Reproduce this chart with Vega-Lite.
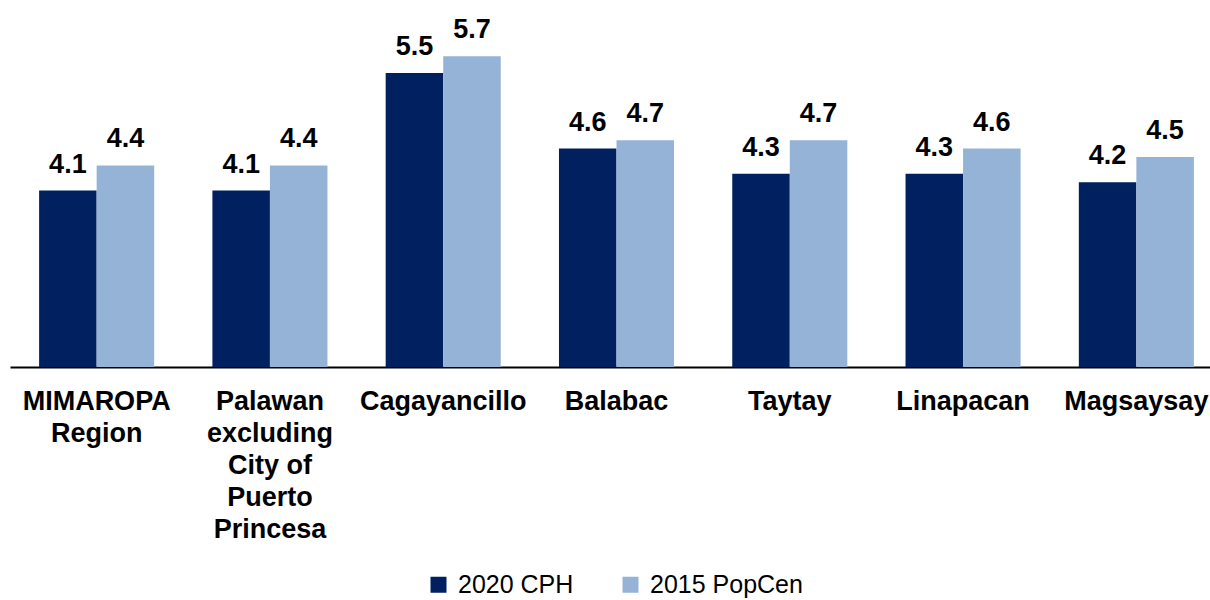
{
  "$schema": "https://vega.github.io/schema/vega-lite/v6.json",
  "width": 1213,
  "height": 336,
  "autosize": {"type": "none"},
  "padding": {"left": 10, "top": 31, "right": 0, "bottom": 233},
  "config": {"view": {"stroke": null}, "font": "Liberation Sans"},
  "data": {
    "values": [
      {"area": "MIMAROPA Region", "series": "2020 CPH", "value": 4.1},
      {"area": "MIMAROPA Region", "series": "2015 PopCen", "value": 4.4},
      {"area": "Palawan excluding City of Puerto Princesa", "series": "2020 CPH", "value": 4.1},
      {"area": "Palawan excluding City of Puerto Princesa", "series": "2015 PopCen", "value": 4.4},
      {"area": "Cagayancillo", "series": "2020 CPH", "value": 5.5},
      {"area": "Cagayancillo", "series": "2015 PopCen", "value": 5.7},
      {"area": "Balabac", "series": "2020 CPH", "value": 4.6},
      {"area": "Balabac", "series": "2015 PopCen", "value": 4.7},
      {"area": "Taytay", "series": "2020 CPH", "value": 4.3},
      {"area": "Taytay", "series": "2015 PopCen", "value": 4.7},
      {"area": "Linapacan", "series": "2020 CPH", "value": 4.3},
      {"area": "Linapacan", "series": "2015 PopCen", "value": 4.6},
      {"area": "Magsaysay", "series": "2020 CPH", "value": 4.2},
      {"area": "Magsaysay", "series": "2015 PopCen", "value": 4.5}
    ]
  },
  "encoding": {
    "x": {
      "field": "area",
      "type": "nominal",
      "sort": null,
      "scale": {"paddingInner": 0.336, "paddingOuter": 0.168},
      "axis": {
        "title": null,
        "labelAngle": 0,
        "labelFontSize": 27,
        "labelFontWeight": "bold",
        "labelColor": "#000000",
        "labelLimit": 0,
        "labelOverlap": false,
        "labelPadding": 21,
        "labelLineHeight": 32,
        "ticks": false,
        "domainColor": "#000000",
        "domainWidth": 2,
        "labelExpr": "datum.value == 'MIMAROPA Region' ? ['MIMAROPA', 'Region'] : datum.value == 'Palawan excluding City of Puerto Princesa' ? ['Palawan', 'excluding', 'City of', 'Puerto', 'Princesa'] : datum.value"
      }
    },
    "xOffset": {"field": "series", "type": "nominal", "sort": ["2020 CPH", "2015 PopCen"]},
    "y": {
      "field": "value",
      "type": "quantitative",
      "scale": {"domain": [2, 6], "zero": false},
      "axis": null
    }
  },
  "layer": [
    {
      "mark": {"type": "bar"},
      "encoding": {
        "y2": {"datum": 2},
        "color": {
          "field": "series",
          "type": "nominal",
          "sort": ["2020 CPH", "2015 PopCen"],
          "scale": {"domain": ["2020 CPH", "2015 PopCen"], "range": ["#002060", "#95B3D7"]},
          "legend": {
            "title": null,
            "orient": "none",
            "direction": "horizontal",
            "legendX": 416,
            "legendY": 541,
            "symbolType": "square",
            "symbolSize": 256,
            "symbolStrokeWidth": 0,
            "labelFontSize": 25,
            "labelColor": "#000000",
            "labelOffset": 7,
            "columnPadding": 44,
            "labelLimit": 0
          }
        }
      }
    },
    {
      "mark": {"type": "text", "dy": -18, "baseline": "alphabetic", "fontSize": 27, "fontWeight": "bold", "color": "#000000"},
      "encoding": {"text": {"field": "value", "type": "quantitative", "format": ".1f"}}
    }
  ]
}
